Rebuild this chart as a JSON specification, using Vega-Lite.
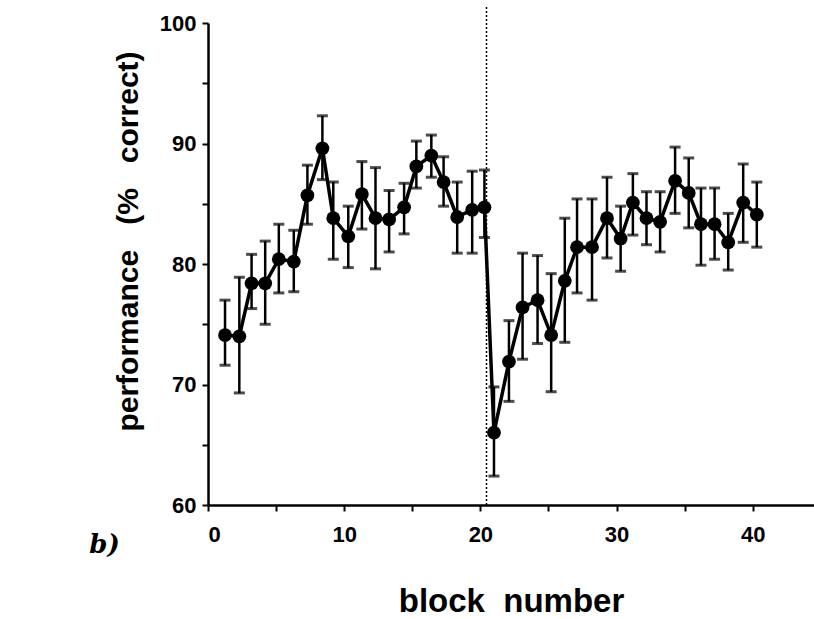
{
  "$schema": "https://vega.github.io/schema/vega-lite/v6.json",
  "autosize": {"type": "none"},
  "width": 606,
  "height": 482,
  "padding": {"left": 208, "top": 23, "right": 0, "bottom": 114},
  "background": "white",
  "config": {
    "view": {"stroke": null},
    "font": "Liberation Sans",
    "axis": {"domainColor": "black", "tickColor": "black", "labelColor": "black", "titleColor": "black", "grid": false, "domainWidth": 2.5, "tickWidth": 2, "labelFont": "Liberation Sans", "titleFont": "Liberation Sans"}
  },
  "datasets": {
    "perf": [
      {"block": 1.25, "perf": 74.1, "lo": 71.6, "hi": 77.0},
      {"block": 2.3, "perf": 74.0, "lo": 69.3, "hi": 78.9},
      {"block": 3.2, "perf": 78.4, "lo": 76.3, "hi": 80.8},
      {"block": 4.2, "perf": 78.4, "lo": 75.0, "hi": 81.9},
      {"block": 5.2, "perf": 80.4, "lo": 77.6, "hi": 83.3},
      {"block": 6.3, "perf": 80.2, "lo": 77.7, "hi": 82.8},
      {"block": 7.3, "perf": 85.7, "lo": 83.3, "hi": 88.2},
      {"block": 8.4, "perf": 89.6, "lo": 87.0, "hi": 92.3},
      {"block": 9.2, "perf": 83.8, "lo": 80.4, "hi": 86.8},
      {"block": 10.3, "perf": 82.3, "lo": 79.7, "hi": 84.8},
      {"block": 11.3, "perf": 85.8, "lo": 82.9, "hi": 88.5},
      {"block": 12.3, "perf": 83.8, "lo": 79.6, "hi": 88.0},
      {"block": 13.3, "perf": 83.7, "lo": 81.0, "hi": 86.1},
      {"block": 14.4, "perf": 84.7, "lo": 82.5, "hi": 86.7},
      {"block": 15.3, "perf": 88.1, "lo": 86.3, "hi": 90.2},
      {"block": 16.4, "perf": 89.0, "lo": 87.2, "hi": 90.7},
      {"block": 17.3, "perf": 86.8, "lo": 84.8, "hi": 88.9},
      {"block": 18.3, "perf": 83.9, "lo": 80.9, "hi": 86.8},
      {"block": 19.4, "perf": 84.5, "lo": 80.9, "hi": 87.7},
      {"block": 20.3, "perf": 84.7, "lo": 82.2, "hi": 87.8},
      {"block": 21.0, "perf": 66.0, "lo": 62.4, "hi": 69.8},
      {"block": 22.1, "perf": 71.9, "lo": 68.6, "hi": 75.3},
      {"block": 23.1, "perf": 76.4, "lo": 72.1, "hi": 80.9},
      {"block": 24.2, "perf": 77.0, "lo": 73.4, "hi": 80.7},
      {"block": 25.2, "perf": 74.1, "lo": 69.4, "hi": 79.2},
      {"block": 26.2, "perf": 78.6, "lo": 73.5, "hi": 83.8},
      {"block": 27.1, "perf": 81.4, "lo": 77.6, "hi": 85.4},
      {"block": 28.2, "perf": 81.4, "lo": 77.0, "hi": 85.4},
      {"block": 29.3, "perf": 83.8, "lo": 80.5, "hi": 87.2},
      {"block": 30.3, "perf": 82.1, "lo": 79.4, "hi": 84.8},
      {"block": 31.2, "perf": 85.1, "lo": 82.4, "hi": 87.5},
      {"block": 32.2, "perf": 83.8, "lo": 81.6, "hi": 86.0},
      {"block": 33.2, "perf": 83.5, "lo": 81.0, "hi": 86.0},
      {"block": 34.3, "perf": 86.9, "lo": 84.2, "hi": 89.7},
      {"block": 35.3, "perf": 85.9, "lo": 83.0, "hi": 88.8},
      {"block": 36.2, "perf": 83.3, "lo": 79.9, "hi": 86.3},
      {"block": 37.2, "perf": 83.3, "lo": 80.4, "hi": 86.3},
      {"block": 38.2, "perf": 81.8, "lo": 79.5, "hi": 84.2},
      {"block": 39.3, "perf": 85.1, "lo": 81.8, "hi": 88.3},
      {"block": 40.3, "perf": 84.1, "lo": 81.4, "hi": 86.8}
    ],
    "divider": [{"block": 20.45, "y1": 60, "y2": 101.5}],
    "label": [{"x": -7.6, "y": 56.7, "text": "b)"}]
  },
  "layer": [
    {
      "data": {"name": "divider"},
      "mark": {"type": "rule", "color": "black", "strokeWidth": 1.5, "strokeDash": [2, 2]},
      "encoding": {
        "x": {"field": "block", "type": "quantitative", "scale": {"domain": [0, 44.5], "nice": false, "zero": false},
          "axis": {"values": [0, 5, 10, 15, 20, 25, 30, 35, 40], "labelExpr": "datum.value % 10 === 0 ? datum.label : ''", "tickSize": 6, "labelPadding": 13, "labelFontSize": 22, "labelFontWeight": "bold", "title": "block\u00a0\u00a0number", "titleFontSize": 33, "titleFontWeight": "bold", "titlePadding": 40}},
        "y": {"field": "y1", "type": "quantitative", "scale": {"domain": [60, 100], "nice": false, "zero": false},
          "axis": {"values": [60, 65, 70, 75, 80, 85, 90, 95, 100], "labelExpr": "datum.value % 10 === 0 ? datum.label : ''", "tickSize": 6, "labelPadding": 6, "labelFontSize": 22, "labelFontWeight": "bold", "title": "performance\u00a0\u00a0\u00a0(%\u00a0\u00a0\u00a0correct)", "titleFontSize": 30, "titleFontWeight": "bold", "titlePadding": 16, "titleY": 218}},
        "y2": {"field": "y2"}
      }
    },
    {
      "data": {"name": "perf"},
      "mark": {"type": "rule", "color": "black", "strokeWidth": 2.5},
      "encoding": {
        "x": {"field": "block", "type": "quantitative"},
        "y": {"field": "lo", "type": "quantitative"},
        "y2": {"field": "hi"}
      }
    },
    {
      "data": {"name": "perf"},
      "mark": {"type": "tick", "color": "black", "orient": "horizontal", "size": 11, "thickness": 3},
      "encoding": {
        "x": {"field": "block", "type": "quantitative"},
        "y": {"field": "lo", "type": "quantitative"}
      }
    },
    {
      "data": {"name": "perf"},
      "mark": {"type": "tick", "color": "black", "orient": "horizontal", "size": 11, "thickness": 3},
      "encoding": {
        "x": {"field": "block", "type": "quantitative"},
        "y": {"field": "hi", "type": "quantitative"}
      }
    },
    {
      "data": {"name": "perf"},
      "mark": {"type": "line", "color": "black", "strokeWidth": 3.5},
      "encoding": {
        "x": {"field": "block", "type": "quantitative"},
        "y": {"field": "perf", "type": "quantitative"}
      }
    },
    {
      "data": {"name": "perf"},
      "mark": {"type": "point", "filled": true, "color": "black", "opacity": 1, "size": 190},
      "encoding": {
        "x": {"field": "block", "type": "quantitative"},
        "y": {"field": "perf", "type": "quantitative"}
      }
    },
    {
      "data": {"name": "label"},
      "mark": {"type": "text", "font": "DejaVu Serif", "fontStyle": "italic", "fontWeight": "bold", "fontSize": 26, "color": "black", "align": "center", "baseline": "middle"},
      "encoding": {
        "x": {"field": "x", "type": "quantitative"},
        "y": {"field": "y", "type": "quantitative"},
        "text": {"field": "text"}
      }
    }
  ]
}
